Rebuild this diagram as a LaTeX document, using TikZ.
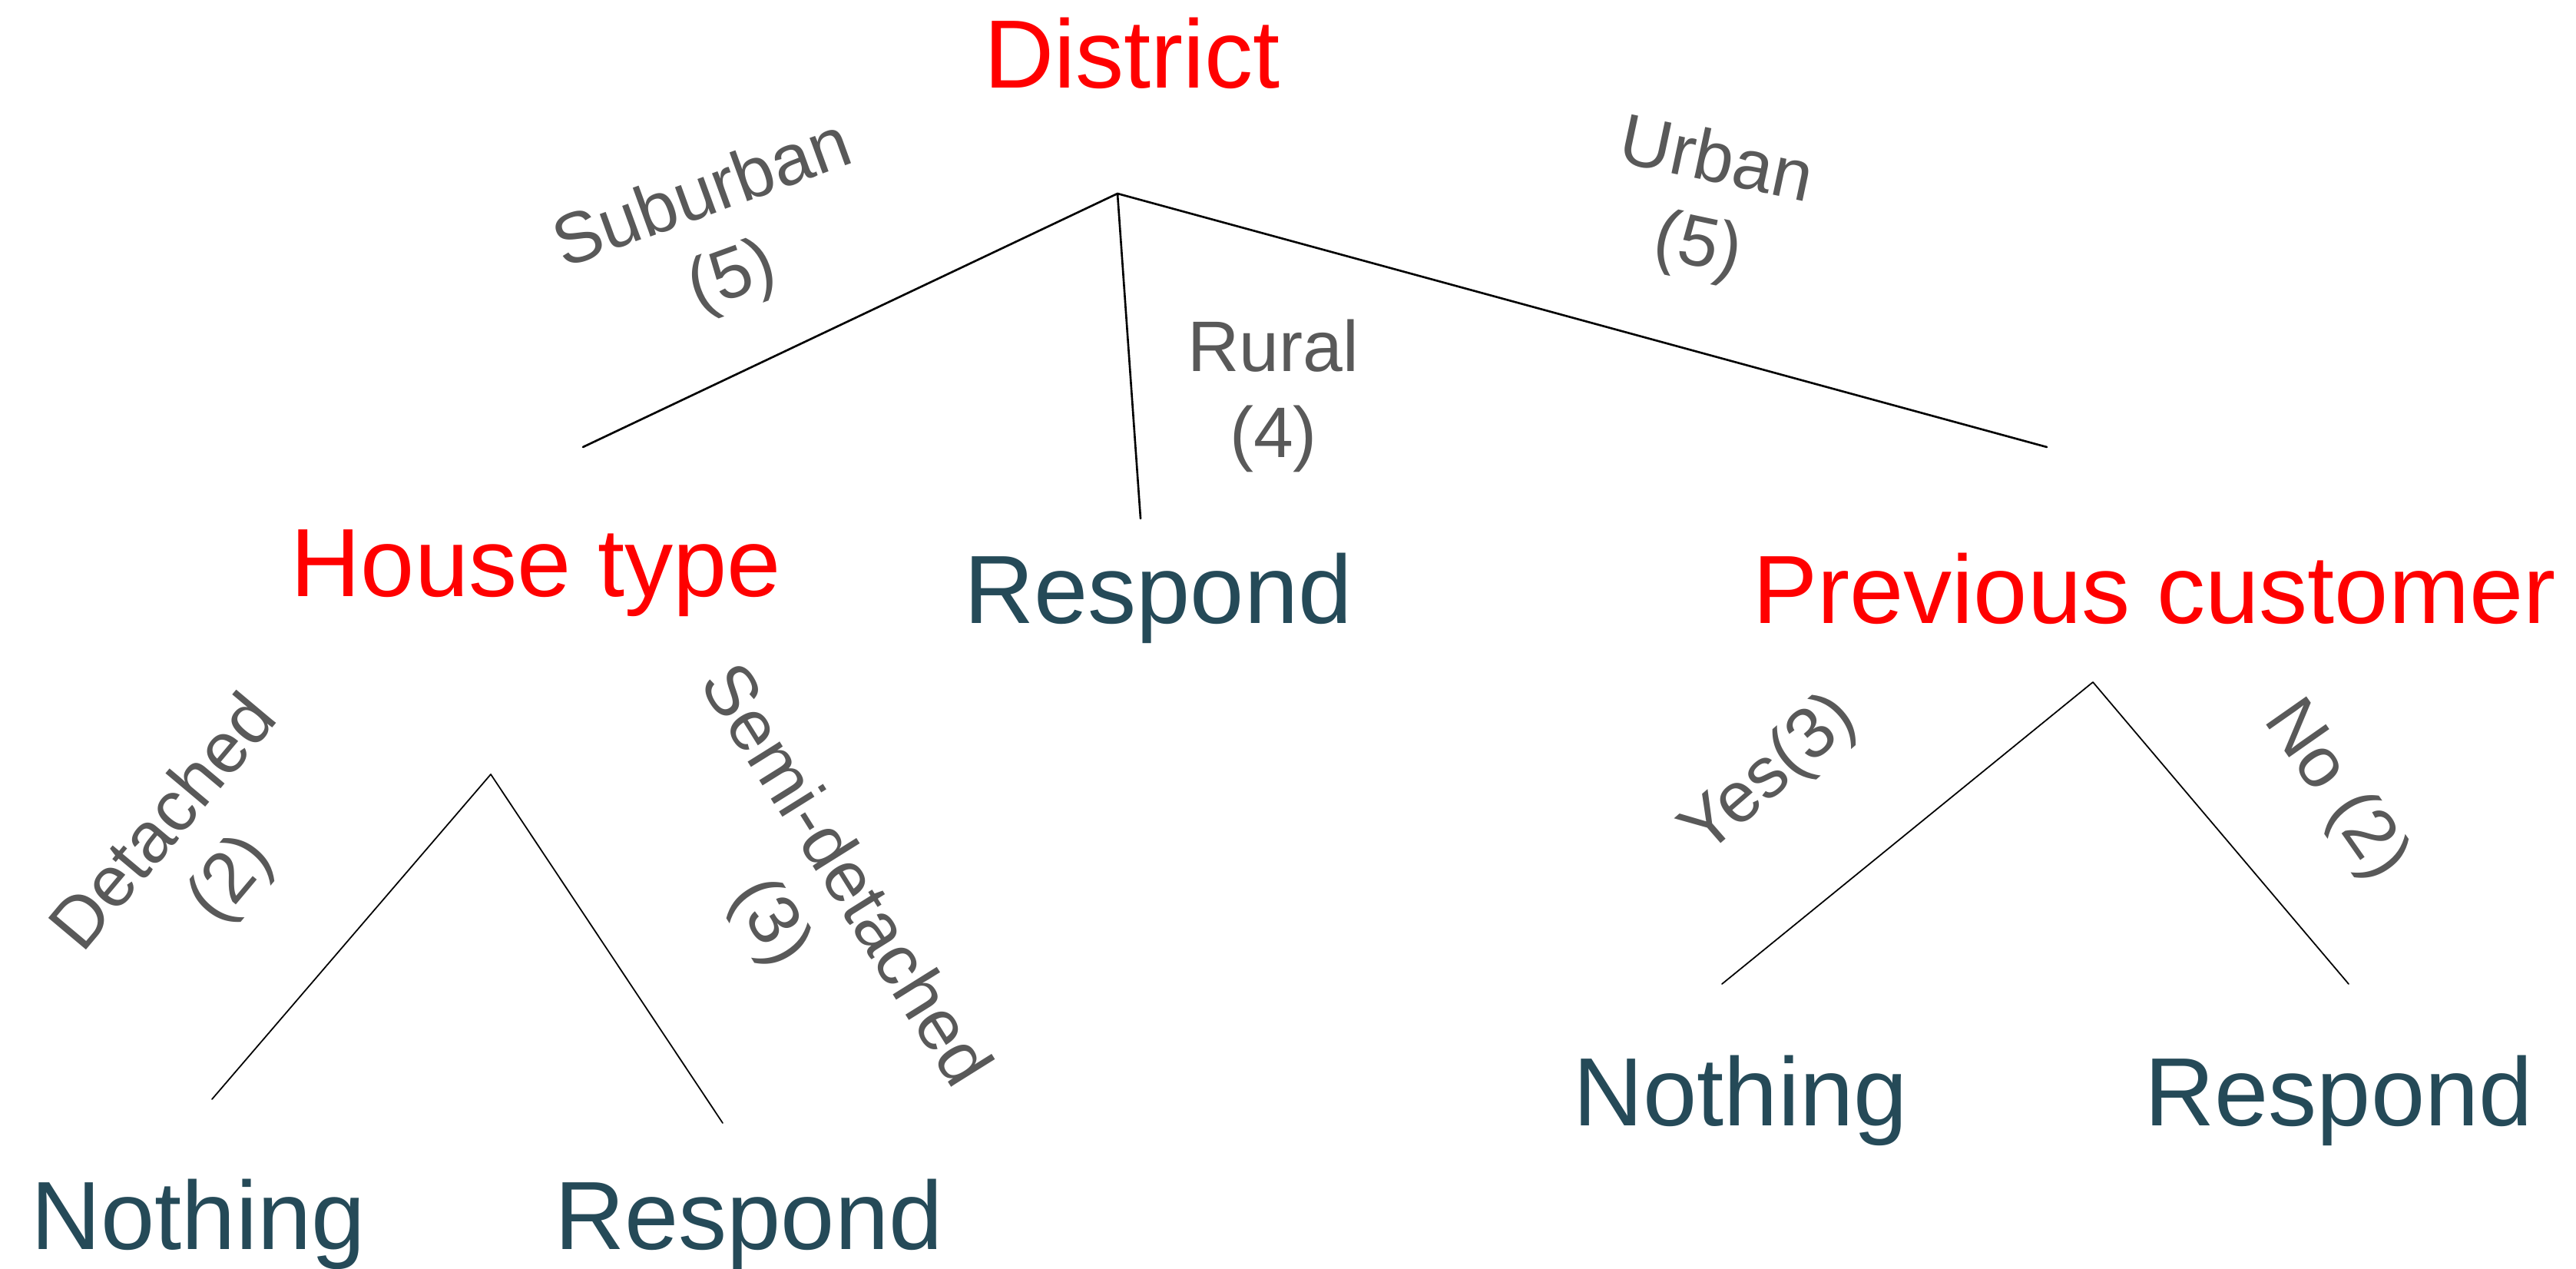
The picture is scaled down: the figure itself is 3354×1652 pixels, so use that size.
\documentclass[tikz,border=0pt]{standalone}
\usepackage{fontspec}
\setmainfont{Liberation Sans}
\definecolor{splitred}{RGB}{255,0,0}
\definecolor{leafteal}{RGB}{37,74,88}
\definecolor{branchgray}{RGB}{89,89,89}
\tikzset{
	split/.style={text=splitred, font=\fontsize{35.9}{43}\selectfont, inner sep=0pt, anchor=base},
	leaf/.style={text=leafteal, font=\fontsize{35.9}{43}\selectfont, inner sep=0pt, anchor=base},
	branch/.style={text=branchgray, font=\fontsize{26.5}{31.8}\selectfont, inner sep=0pt, align=center}
}
\begin{document}
\begin{tikzpicture}[x=0.01cm, y=-0.01cm, line join=round, line cap=round]
	\useasboundingbox (0,0) rectangle (3354,1652);
	\path
	(1455,252) coordinate (D)
	(759,582) coordinate (Ds)
	(1485,675) coordinate (Dr)
	(2665,582) coordinate (Du)
	(639,1008) coordinate (H)
	(276,1431) coordinate (Hd)
	(941,1462) coordinate (Hs)
	(2725,888) coordinate (P)
	(2242,1281) coordinate (Py)
	(3058,1281) coordinate (Pn)
	;
	
	\draw[line width=0.75pt] (Ds)--(D)--(Du) (D)--(Dr);
	\draw[line width=0.5pt] (Hd)--(H)--(Hs) (Py)--(P)--(Pn);
	
	% splits and leaves
	\node[split] (district) at (1474,115) {District};
	\node[split] (house) at (698,776) {House type};
	\node[split] (previous) at (2805,811) {Previous customer};
	\node[leaf] (rural-leaf) at (1508,811) {Respond};
	\node[leaf] (det-leaf) at (258,1626) {Nothing};
	\node[leaf] (semi-leaf) at (975,1626) {Respond};
	\node[leaf] (yes-leaf) at (2266,1465) {Nothing};
	\node[leaf] (no-leaf) at (3045,1465) {Respond};
	
	% branch labels
	\node[branch, rotate=20] (suburban) at (935,310) {Suburban\\(5)};
	\node[branch] (rural) at (1658,515) {Rural\\(4)};
	\node[branch, rotate=-12] (urban) at (2222,268) {Urban\\(5)};
	\node[branch, rotate=50] (detached) at (260,1110) {Detached\\(2)};
	\node[branch, rotate=-58] (semi) at (1049,1172) {Semi-detached\\(3)};
	\node[branch, rotate=41] (yes) at (2305,1010) {Yes(3)};
	\node[branch, rotate=-55] (no) at (3040,1030) {No (2)};
\end{tikzpicture}
\end{document}
